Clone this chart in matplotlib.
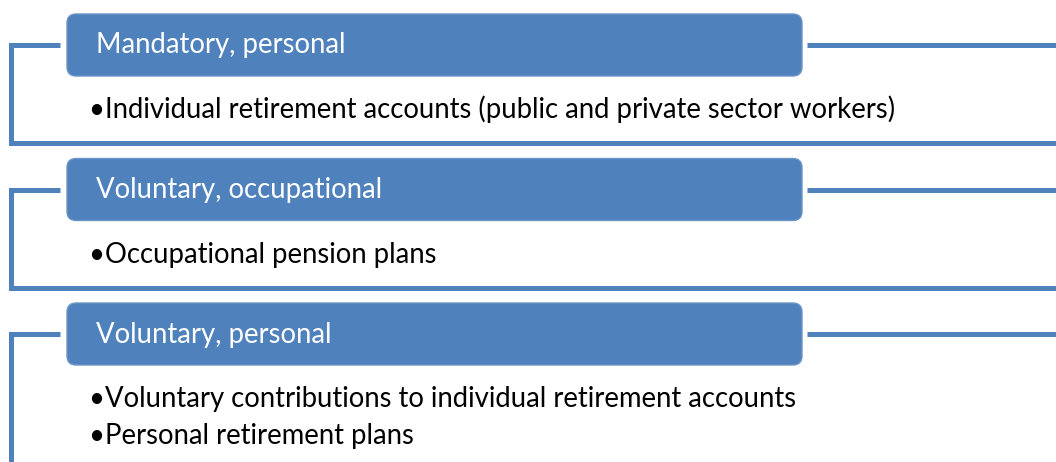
import matplotlib
matplotlib.use("Agg")
import matplotlib.pyplot as plt
from matplotlib.patches import FancyBboxPatch

# Content of the three panels
headers = ["Mandatory, personal", "Voluntary, occupational", "Voluntary, personal"]
items = [
    ["Individual retirement accounts (public and private sector workers)"],
    ["Occupational pension plans"],
    ["Voluntary contributions to individual retirement accounts",
     "Personal retirement plans"],
]

blue = "#4F81BD"
W, H = 1056, 462

fig = plt.figure(figsize=(W / 100, H / 100), dpi=100)
ax = fig.add_axes([0, 0, 1, 1])
ax.set_xlim(0, W)
ax.set_ylim(H, 0)
ax.axis("off")

lw = 3.6
fs = 19.8
for i, (head, lines) in enumerate(zip(headers, items)):
    top = 14 + i * 144.5
    mid = top + 31
    # frame around the panel
    if i < 2:
        bottom = top + 129
        ax.plot([1056, 11, 11, 60], [bottom, bottom, mid, mid], color=blue, lw=lw,
                solid_joinstyle="miter", solid_capstyle="butt")
    else:
        ax.plot([11, 11, 60], [H + 5, mid, mid], color=blue, lw=lw,
                solid_joinstyle="miter", solid_capstyle="butt")
    ax.plot([807, 1056], [mid, mid], color=blue, lw=lw, solid_capstyle="butt")

    box = FancyBboxPatch((67, top), 735, 62, boxstyle="round,pad=0,rounding_size=9",
                         facecolor=blue, edgecolor="#6C95C8", lw=1)
    ax.add_patch(box)
    ax.text(96, mid + 8.5, head, color="white", fontsize=fs, family="Lato",
            va="baseline", ha="left")
    for j, line in enumerate(lines):
        ax.text(89, top + 104 + j * 37, "\u2022" + line, color="black", fontsize=fs,
                family="Lato", va="baseline", ha="left")

fig.savefig("out.png", dpi=100)
